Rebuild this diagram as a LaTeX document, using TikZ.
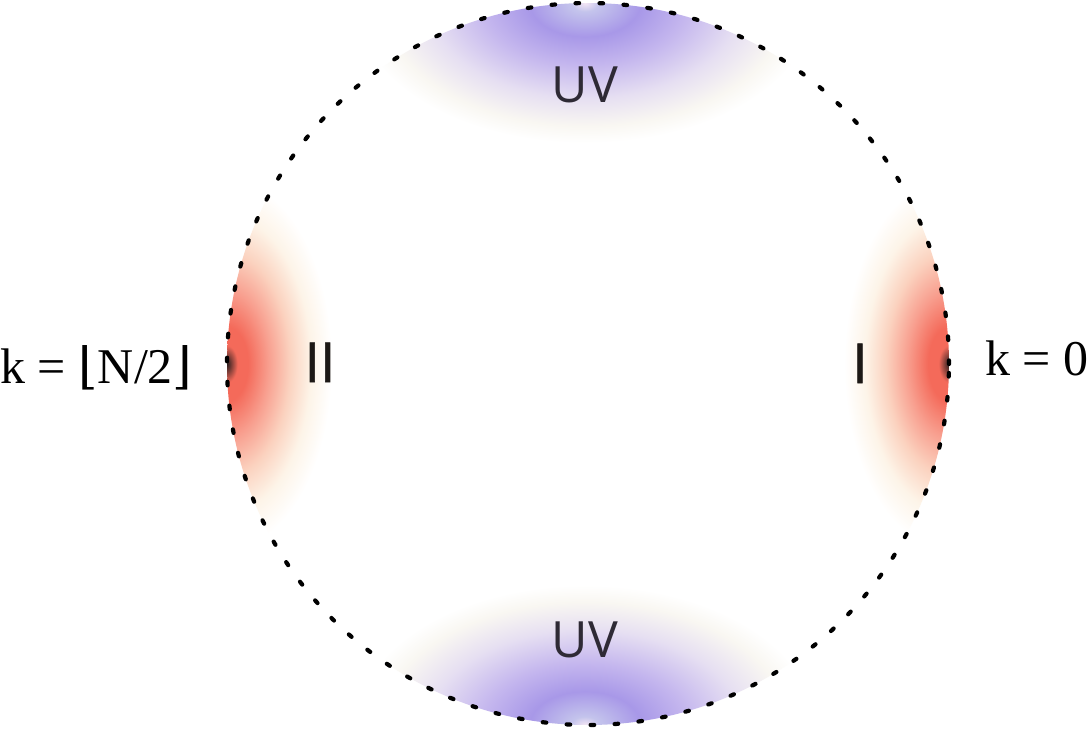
\documentclass[tikz,border=0pt]{standalone}
\usepackage{fontspec}
\setmainfont{Liberation Serif}
\newfontfamily\uvfont{Open Sans}
\newfontfamily\romfont[FakeBold=1.2]{Open Sans}
\newfontfamily\flrfont{DejaVu Serif}
\definecolor{txt}{HTML}{2E2A35}
\definecolor{romtxt}{HTML}{1C1815}
\definecolor{rcore}{HTML}{2A1E1E}
\definecolor{rred}{HTML}{F46A5A}
\definecolor{rsalmon}{HTML}{F8A090}
\definecolor{rpeach}{HTML}{FBD2BF}
\definecolor{rcream}{HTML}{FDF4E8}
\definecolor{ucore}{HTML}{F4E6F4}
\definecolor{ublue}{HTML}{C4C4EC}
\definecolor{upurple}{HTML}{A898E8}
\definecolor{ulav}{HTML}{C4B6EE}
\definecolor{ulight}{HTML}{E6DFF2}
\definecolor{ucream}{HTML}{F9F7F2}
\pgfdeclareradialshading{redblob}{\pgfpoint{0bp}{0bp}}{color(0bp)=(rcore); color(1bp)=(rcore!60!rred); color(2.5bp)=(rred); color(5bp)=(rred); color(10bp)=(rsalmon); color(15bp)=(rpeach); color(20bp)=(rcream); color(25bp)=(white); color(50bp)=(white)}
\pgfdeclareradialshading{uvblob}{\pgfpoint{0bp}{0bp}}{color(0bp)=(ucore); color(1.5bp)=(ublue); color(6bp)=(upurple); color(11bp)=(ulav); color(17bp)=(ulight); color(22bp)=(ucream); color(25bp)=(white); color(50bp)=(white)}
\tikzset{
  lbl/.style={font=\uvfont\fontsize{50}{60}\selectfont, text=txt, inner sep=0pt},
  romlbl/.style={font=\romfont\fontsize{55}{66}\selectfont, text=romtxt, inner sep=0pt},
  klbl/.style={font=\fontsize{50}{60}\selectfont, text=black, inner sep=0pt},
  rim/.style={draw=black, line width=4.2pt, line cap=round, dash pattern=on 3.6pt off 20.4pt}
}
\begin{document}
\begin{tikzpicture}[x=1pt,y=-1pt]
\fill[white] (0,0) rectangle (1089,728);
\useasboundingbox (0,0) rectangle (1089,728);
\coordinate (c) at (588,364);
\begin{scope}
  \clip (c) circle [radius=361pt];
  \shade[shading=redblob] (949,364) ellipse [x radius=105pt, y radius=185pt];
  \shade[shading=redblob] (227,364) ellipse [x radius=105pt, y radius=185pt];
  \shade[shading=uvblob] (585,3) ellipse [x radius=230pt, y radius=140pt];
  \shade[shading=uvblob] (585,725) ellipse [x radius=230pt, y radius=140pt];
\end{scope}
\draw[rim] (c) circle [radius=361pt];
\node[lbl] (uvt) at (585,85) {UV};
\node[lbl] (uvb) at (585,640) {UV};
\node[romlbl, anchor=base] (two) at (320,382) {II};
\node[romlbl, anchor=base] (one) at (860,383) {I};
\node[klbl, anchor=base west] (kl) at (0,383) {k = {\flrfont ⌊}N/2{\flrfont ⌋}};
\node[klbl, anchor=base west] (kr) at (985,375) {k = 0};
\end{tikzpicture}
\end{document}
